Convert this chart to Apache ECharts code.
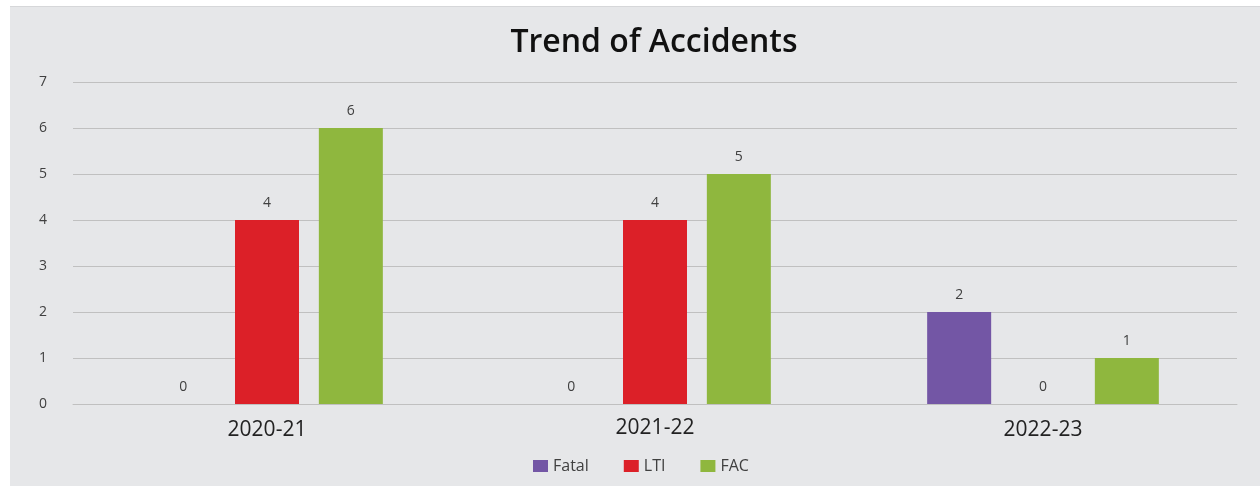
<!DOCTYPE html>
<html>
<head>
<meta charset="utf-8">
<script src="https://cdn.jsdelivr.net/npm/echarts@6/dist/echarts.min.js"></script>
<style>
  html, body { margin: 0; padding: 0; background: #ffffff; }
  #panel { position: absolute; left: 10px; top: 6px; width: 1250px; height: 480px;
           background: #e6e7e9; border-top: 1px solid #d6d7d9; }
  #chart { position: absolute; left: 0; top: 0; width: 1260px; height: 486px; }
</style>
</head>
<body>
<div id="panel"></div>
<div id="chart"></div>
<script>
const years = ['2020-21', '2021-22', '2022-23'];
const fatal = [0, 0, 2];
const lti = [4, 4, 0];
const fac = [6, 5, 1];
const yTicks = [0, 1, 2, 3, 4, 5, 6, 7];

const font = '"Open Sans", "DejaVu Sans", sans-serif';
const labelStyle = {
  show: true, position: 'top', distance: 10,
  color: '#404040', fontSize: 14, fontFamily: font
};

const chart = echarts.init(document.getElementById('chart'));
chart.setOption({
  backgroundColor: 'transparent',
  animation: false,
  title: {
    text: 'Trend of Accidents',
    left: 649, top: 22, textAlign: 'center',
    textStyle: { fontFamily: font, fontWeight: 600, fontSize: 32, color: '#111111' }
  },
  legend: {
    data: ['Fatal', 'LTI', 'FAC'],
    left: 528, top: 453, icon: 'rect',
    itemWidth: 15, itemHeight: 12, itemGap: 35,
    textStyle: { fontFamily: font, fontSize: 16, color: '#404040' }
  },
  grid: { left: 73, right: 23, top: 82, bottom: 82 },
  xAxis: {
    type: 'category',
    data: years,
    axisLine: { show: true, lineStyle: { color: '#c0c0c0' } },
    axisTick: { show: false },
    axisLabel: {
      margin: 14,
      formatter: (v, i) => (i === 1 ? '{up|' + v + '}' : '{n|' + v + '}'),
      rich: {
        n: { fontFamily: font, fontSize: 21, color: '#222222', padding: [2, 0, 0, 0] },
        up: { fontFamily: font, fontSize: 21, color: '#222222', padding: [0, 0, 6, 0] }
      }
    }
  },
  yAxis: {
    type: 'value', min: yTicks[0], max: yTicks[yTicks.length - 1], interval: 1,
    axisLine: { show: false }, axisTick: { show: false },
    splitLine: { lineStyle: { color: '#c0c0c0', width: 1 } },
    axisLabel: { fontFamily: font, fontSize: 14, color: '#404040', margin: 26 }
  },
  series: [
    { name: 'Fatal', type: 'bar', data: fatal, barWidth: 64, barGap: '31%', itemStyle: { color: '#7356a5' }, label: labelStyle },
    { name: 'LTI', type: 'bar', data: lti, barWidth: 64, barGap: '31%', itemStyle: { color: '#dc2028' }, label: labelStyle },
    { name: 'FAC', type: 'bar', data: fac, barWidth: 64, barGap: '31%', itemStyle: { color: '#8fb73e' }, label: labelStyle }
  ]
});
</script>
</body>
</html>
